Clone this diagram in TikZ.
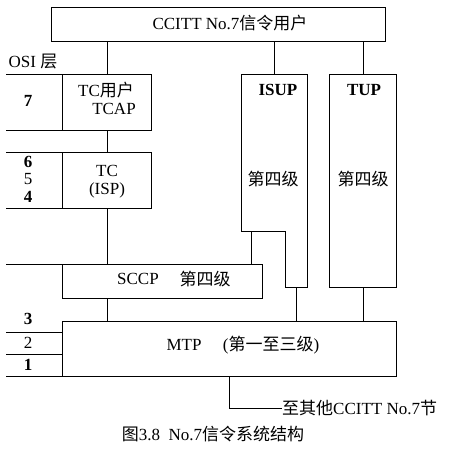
\documentclass[tikz,border=0pt]{standalone}
\usepackage{fontspec}
\setmainfont{Liberation Serif}
\newfontfamily\cjk{Noto Sans CJK SC}
\begin{document}
\begin{tikzpicture}[x=1pt,y=-1pt,
  box/.style={draw,line width=0.9pt},
  ln/.style={line width=0.9pt},
  txt/.style={inner sep=0pt,font=\fontsize{17}{19}\selectfont},
  num/.style={inner sep=0pt,font=\fontsize{17}{19}\selectfont\bfseries}]
\useasboundingbox (0,0) rectangle (448,453);
% boxes
\draw[box] (51,7) rectangle (385,41);
\node[txt] (top) at (230,23) {CCITT No.7{\cjk 信令用户}};
\draw[box] (62,74) rectangle (151,130);
\node[txt] (tcu1) at (106,90) {TC{\cjk 用户}};
\node[txt] (tcu2) at (114,109) {TCAP};
\draw[box] (62,152) rectangle (151,208);
\node[txt] (tc1) at (107,171) {TC};
\node[txt] (tc2) at (107,190) {(ISP)};
\draw[box] (241,74) -- (307,74) -- (307,287) -- (285,287) -- (285,231) -- (241,231) -- cycle;
\node[txt] (isup) at (278,90) {\bfseries ISUP};
\node[txt] (isup4) at (273,179) {\cjk 第四级};
\draw[box] (329,74) rectangle (396,287);
\node[txt] (tup) at (364,90) {\bfseries TUP};
\node[txt] (tup4) at (363,179) {\cjk 第四级};
\draw[box] (62,264) rectangle (262,298);
\node[txt] (sccp) at (138,279) {SCCP};
\node[txt] (sccp4) at (205,279) {\cjk 第四级};
\draw[box] (62,321) rectangle (396,376);
\node[txt] (mtp) at (184,345) {MTP};
\node[txt] (mtp2) at (271,345) {({\cjk 第一至三级})};
% connectors
\draw[ln] (107,41) -- (107,74);
\draw[ln] (274,41) -- (274,74);
\draw[ln] (363,41) -- (363,74);
\draw[ln] (107,130) -- (107,152);
\draw[ln] (107,208) -- (107,264);
\draw[ln] (251,231) -- (251,264);
\draw[ln] (107,298) -- (107,321);
\draw[ln] (296,287) -- (296,321);
\draw[ln] (363,287) -- (363,321);
\draw[ln] (229,376) -- (229,408) -- (282,408);
\node[txt,anchor=west] (other) at (282,408) {{\cjk 至其他}CCITT No.7{\cjk 节}};
% OSI layers
\node[txt] (osi) at (33,62) {OSI {\cjk 层}};
\foreach \yy in {74,130,152,208,264,332,354,376} \draw[ln] (6,\yy) -- (62,\yy);
\node[num] (l7) at (28,101) {7};
\node[num] (l6) at (28,162) {6};
\node[txt] (l5) at (28,179) {5};
\node[num] (l4) at (28,197) {4};
\node[num] (l3) at (28,319) {3};
\node[txt] (l2) at (28,343) {2};
\node[num] (l1) at (28,365) {1};
% caption
\node[txt] (cap) at (213,434) {{\cjk 图}3.8\ \ No.7{\cjk 信令系统结构}};
\end{tikzpicture}
\end{document}
